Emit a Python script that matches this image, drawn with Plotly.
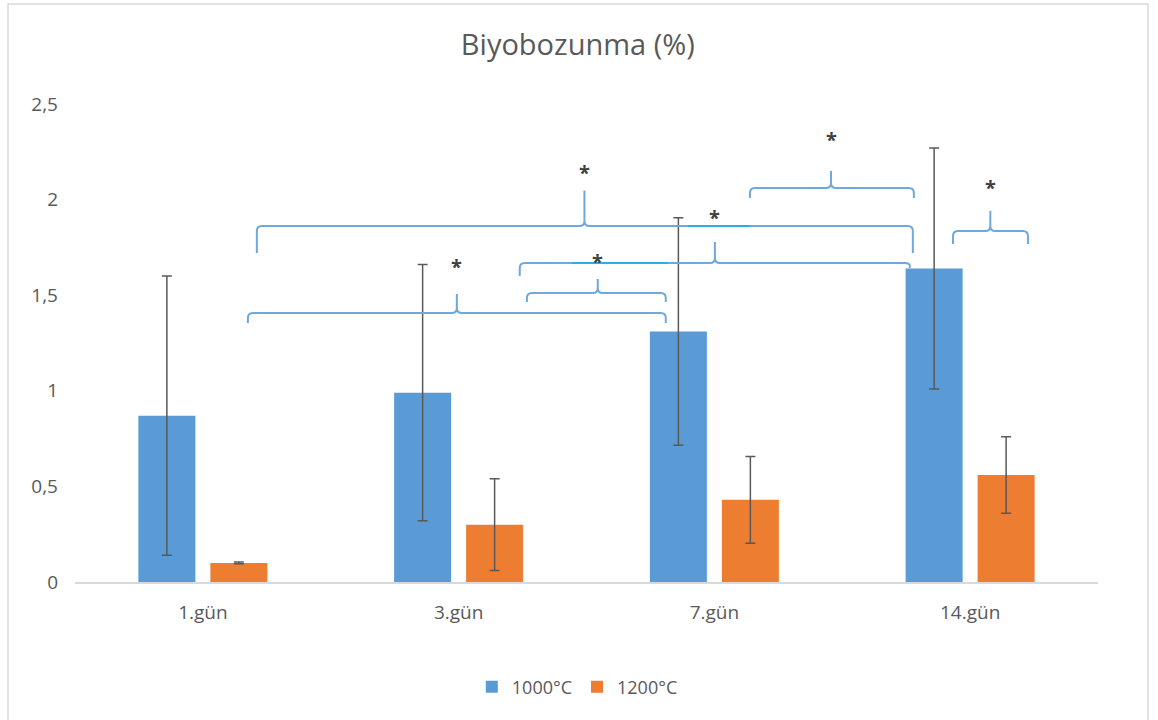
import plotly.graph_objects as go

# ---- data ----
categories = ["1.gün", "3.gün", "7.gün", "14.gün"]
series_names = ["1000°C", "1200°C"]
values_1000 = [0.87, 0.99, 1.31, 1.64]
errors_1000 = [0.73, 0.67, 0.595, 0.63]
values_1200 = [0.10, 0.30, 0.43, 0.56]
errors_1200 = [0.005, 0.24, 0.227, 0.20]
y_tick_values = [0, 0.5, 1, 1.5, 2, 2.5]
y_tick_labels = ["0", "0,5", "1", "1,5", "2", "2,5"]
title_text = "Biyobozunma (%)"

# significance braces (category-axis units / value units):
# left x, right x, level, tip x, tip top, left arm end, right arm end, star y
brace_left = [0.211, 0.176, 1.267, 1.239, 2.139, 2.933]
brace_right = [2.776, 1.810, 1.810, 2.764, 2.780, 3.226]
brace_level = [1.862, 1.407, 1.511, 1.668, 2.061, 1.836]
brace_tip_x = [1.492, 0.993, 1.544, 2.002, 2.456, 3.079]
brace_tip_top = [2.048, 1.506, 1.585, 1.778, 2.150, 1.940]
brace_arm_left = [1.721, 1.355, 1.464, 1.600, 2.008, 1.768]
brace_arm_right = [1.721, 1.355, 1.464, 1.642, 2.008, 1.768]
star_y = [2.170, 1.674, 1.705, 1.935, 2.338, 2.087]
# highlighted segments on braces: x0, x1, level
seg_x0 = [1.896, 1.443]
seg_x1 = [2.139, 1.818]
seg_level = [1.862, 1.668]

# ---- layout constants ----
W, H = 1158, 720
ML, MR, MT, MB = 75, 60, 104, 138
X_RANGE = [-0.5, 3.5]
Y_RANGE = [0, 2.5]
px_x = (W - ML - MR) / (X_RANGE[1] - X_RANGE[0])
px_y = (H - MT - MB) / (Y_RANGE[1] - Y_RANGE[0])

BLUE = "#5B9BD5"
ORANGE = "#ED7D31"
TXT = "#595959"
FONT = "Open Sans"

xpos = list(range(len(categories)))

fig = go.Figure()
fig.add_trace(go.Bar(
    x=xpos, y=values_1000, name=series_names[0],
    marker=dict(color=BLUE, line=dict(width=0)),
    error_y=dict(type="data", array=errors_1000, color="#595959", thickness=1.5, width=5),
))
fig.add_trace(go.Bar(
    x=xpos, y=values_1200, name=series_names[1],
    marker=dict(color=ORANGE, line=dict(width=0)),
    error_y=dict(type="data", array=errors_1200, color="#595959", thickness=1.5, width=5),
))


def brace_path(xl, xr, y, xt, yt, ybl, ybr):
    cx = 5 / px_x
    cy = 5 / px_y
    cyl = min(cy, (y - ybl) * 0.6)
    cyr = min(cy, (y - ybr) * 0.6)
    cyt = min(cy, (yt - y) * 0.5)
    return (f"M {xl},{ybl} L {xl},{y - cyl} Q {xl},{y} {xl + cx},{y} "
            f"L {xt - cx},{y} Q {xt},{y} {xt},{y + cyt} L {xt},{yt} "
            f"M {xt},{y + cyt} Q {xt},{y} {xt + cx},{y} "
            f"L {xr - cx},{y} Q {xr},{y} {xr},{y - cyr} L {xr},{ybr}")


shapes = []
for i in range(len(brace_left)):
    shapes.append(dict(
        type="path", xref="x", yref="y",
        path=brace_path(brace_left[i], brace_right[i], brace_level[i], brace_tip_x[i],
                        brace_tip_top[i], brace_arm_left[i], brace_arm_right[i]),
        line=dict(color="#6FA8DC", width=2), fillcolor="rgba(0,0,0,0)",
    ))
for i in range(len(seg_x0)):
    shapes.append(dict(
        type="line", xref="x", yref="y",
        x0=seg_x0[i], x1=seg_x1[i], y0=seg_level[i], y1=seg_level[i],
        line=dict(color="#2AAEE6", width=2),
    ))
# chart border
pw, ph = W - ML - MR, H - MT - MB
shapes.append(dict(
    type="rect", xref="paper", yref="paper",
    x0=(8 - ML) / pw, x1=(1148 - ML) / pw,
    y0=(H - MB - 730) / ph, y1=(H - MB - 4) / ph,
    line=dict(color="#D9D9D9", width=1.5), fillcolor="rgba(0,0,0,0)", layer="below",
))

annotations = []
for i in range(len(brace_tip_x)):
    annotations.append(dict(
        x=brace_tip_x[i], y=star_y[i], xref="x", yref="y", text="<b>*</b>",
        showarrow=False, yshift=-5,
        font=dict(family=FONT, size=20, color="#404040"),
    ))

fig.update_layout(
    width=W, height=H,
    margin=dict(l=ML, r=MR, t=MT, b=MB, pad=0),
    paper_bgcolor="white", plot_bgcolor="white",
    barmode="group", bargap=0.437, bargroupgap=0.208,
    title=dict(text=title_text, x=0.499, xref="container", xanchor="center",
               y=1 - 45 / H, yanchor="middle",
               font=dict(family=FONT, size=29, color=TXT)),
    font=dict(family=FONT, size=19, color=TXT),
    showlegend=True,
    legend=dict(orientation="h", x=0.491, xanchor="center", y=(H - MB - 687) / ph,
                yanchor="middle", font=dict(family=FONT, size=18, color=TXT),
                itemwidth=30, traceorder="normal"),
    xaxis=dict(range=X_RANGE, tickvals=xpos, ticktext=categories, showgrid=False,
               zeroline=False, showline=True, linecolor="#D9D9D9", linewidth=1.5,
               ticks="", ticklabelstandoff=12, fixedrange=True),
    yaxis=dict(range=Y_RANGE, tickvals=y_tick_values, ticktext=y_tick_labels,
               showgrid=False, zeroline=False, showline=False, ticks="",
               ticklabelstandoff=16, fixedrange=True),
    shapes=shapes, annotations=annotations,
)

fig.write_html("out.html")
